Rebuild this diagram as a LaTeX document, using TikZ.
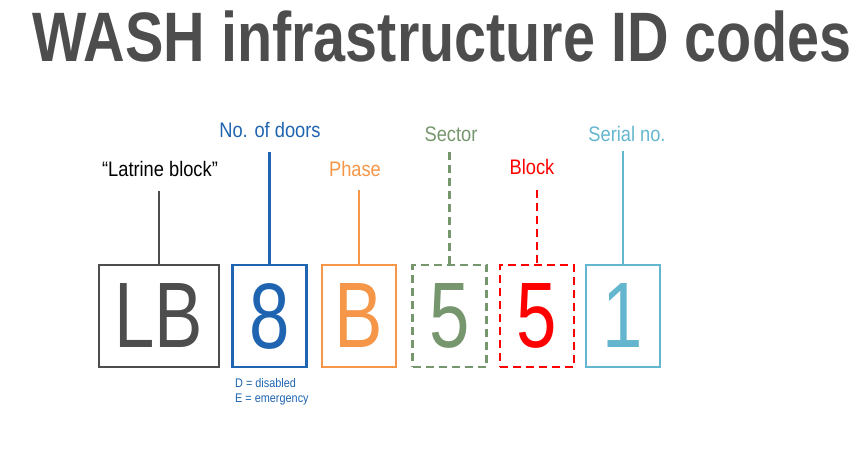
\documentclass[tikz,border=0pt]{standalone}
\usepackage{fontspec}
\usepackage{graphicx}
\setmainfont{Liberation Sans}
\definecolor{cgray}{RGB}{77,77,77}
\definecolor{cblue}{RGB}{30,100,176}
\definecolor{corange}{RGB}{245,150,72}
\definecolor{cgreen}{RGB}{118,150,110}
\definecolor{cred}{RGB}{255,0,0}
\definecolor{clight}{RGB}{100,182,206}
\newcommand{\sqz}[1]{\scalebox{0.87}[1]{#1}}
\newcommand{\dsqz}[1]{\scalebox{0.78}[1]{#1}}
\begin{document}
\begin{tikzpicture}[x=1pt,y=-1pt,
  codebox/.style={draw, line width=2.6pt, minimum height=102pt, inner sep=0pt,
    font=\fontsize{93}{93}\selectfont},
  narrowbox/.style={codebox, minimum width=74pt},
  dashbox/.style={dash pattern=on 8pt off 5pt},
  lbl/.style={anchor=base, inner sep=0pt, font=\fontsize{21}{21}\selectfont},
  conn/.style={line width=2.4pt}]
\useasboundingbox (0,0) rectangle (861,449);
\node[anchor=base, inner sep=0pt, text=cgray, font=\fontsize{70}{70}\selectfont\bfseries]
  (title) at (442,62) {\scalebox{0.822}[1]{WASH infrastructure ID codes}};
% boxes
\node[codebox, minimum width=120pt, color=cgray] (lb) at (159,316) {\dsqz{LB}};
\node[narrowbox, color=cblue] (doors) at (269.5,316) {\dsqz{8}};
\node[narrowbox, color=corange] (phase) at (359,316) {\dsqz{B}};
\node[narrowbox, dashbox, color=cgreen] (sector) at (449.5,316) {\dsqz{5}};
\node[narrowbox, dashbox, color=cred] (block) at (537,316) {\dsqz{5}};
\node[narrowbox, color=clight] (serial) at (623,316) {\dsqz{1}};
% labels
\node[lbl, text=black] (llb) at (160,177) {\sqz{“Latrine block”}};
\node[lbl, text=cblue] (ldoors) at (270,138) {\sqz{No. of doors}};
\node[lbl, text=corange] (lphase) at (355,176) {\sqz{Phase}};
\node[lbl, text=cgreen] (lsector) at (451,142) {\sqz{Sector}};
\node[lbl, text=cred] (lblock) at (532,175) {\sqz{Block}};
\node[lbl, text=clight] (lserial) at (627,142) {\sqz{Serial no.}};
% connector tops
\coordinate (tlb) at (lb.north |- 0,191);
\coordinate (tdoors) at (doors.north |- 0,152);
\coordinate (tphase) at (phase.north |- 0,190);
\coordinate (tsector) at (sector.north |- 0,152);
\coordinate (tblock) at (block.north |- 0,190);
\coordinate (tserial) at (serial.north |- 0,151);
\draw[conn, cgray] (tlb) -- (lb.north);
\draw[conn, cblue] (tdoors) -- (doors.north);
\draw[conn, corange] (tphase) -- (phase.north);
\draw[conn, cgreen, dash pattern=on 8pt off 5pt] (tsector) -- (sector.north);
\draw[conn, cred, dash pattern=on 8pt off 5pt] (tblock) -- (block.north);
\draw[conn, clight] (tserial) -- (serial.north);
% note
\node[anchor=base west, inner sep=0pt, text=cblue, font=\fontsize{12.5}{12.5}\selectfont]
  (note1) at (235,387) {\sqz{D = disabled}};
\node[anchor=base west, inner sep=0pt, text=cblue, font=\fontsize{12.5}{12.5}\selectfont]
  (note2) at (235,402) {\sqz{E = emergency}};
\end{tikzpicture}
\end{document}
